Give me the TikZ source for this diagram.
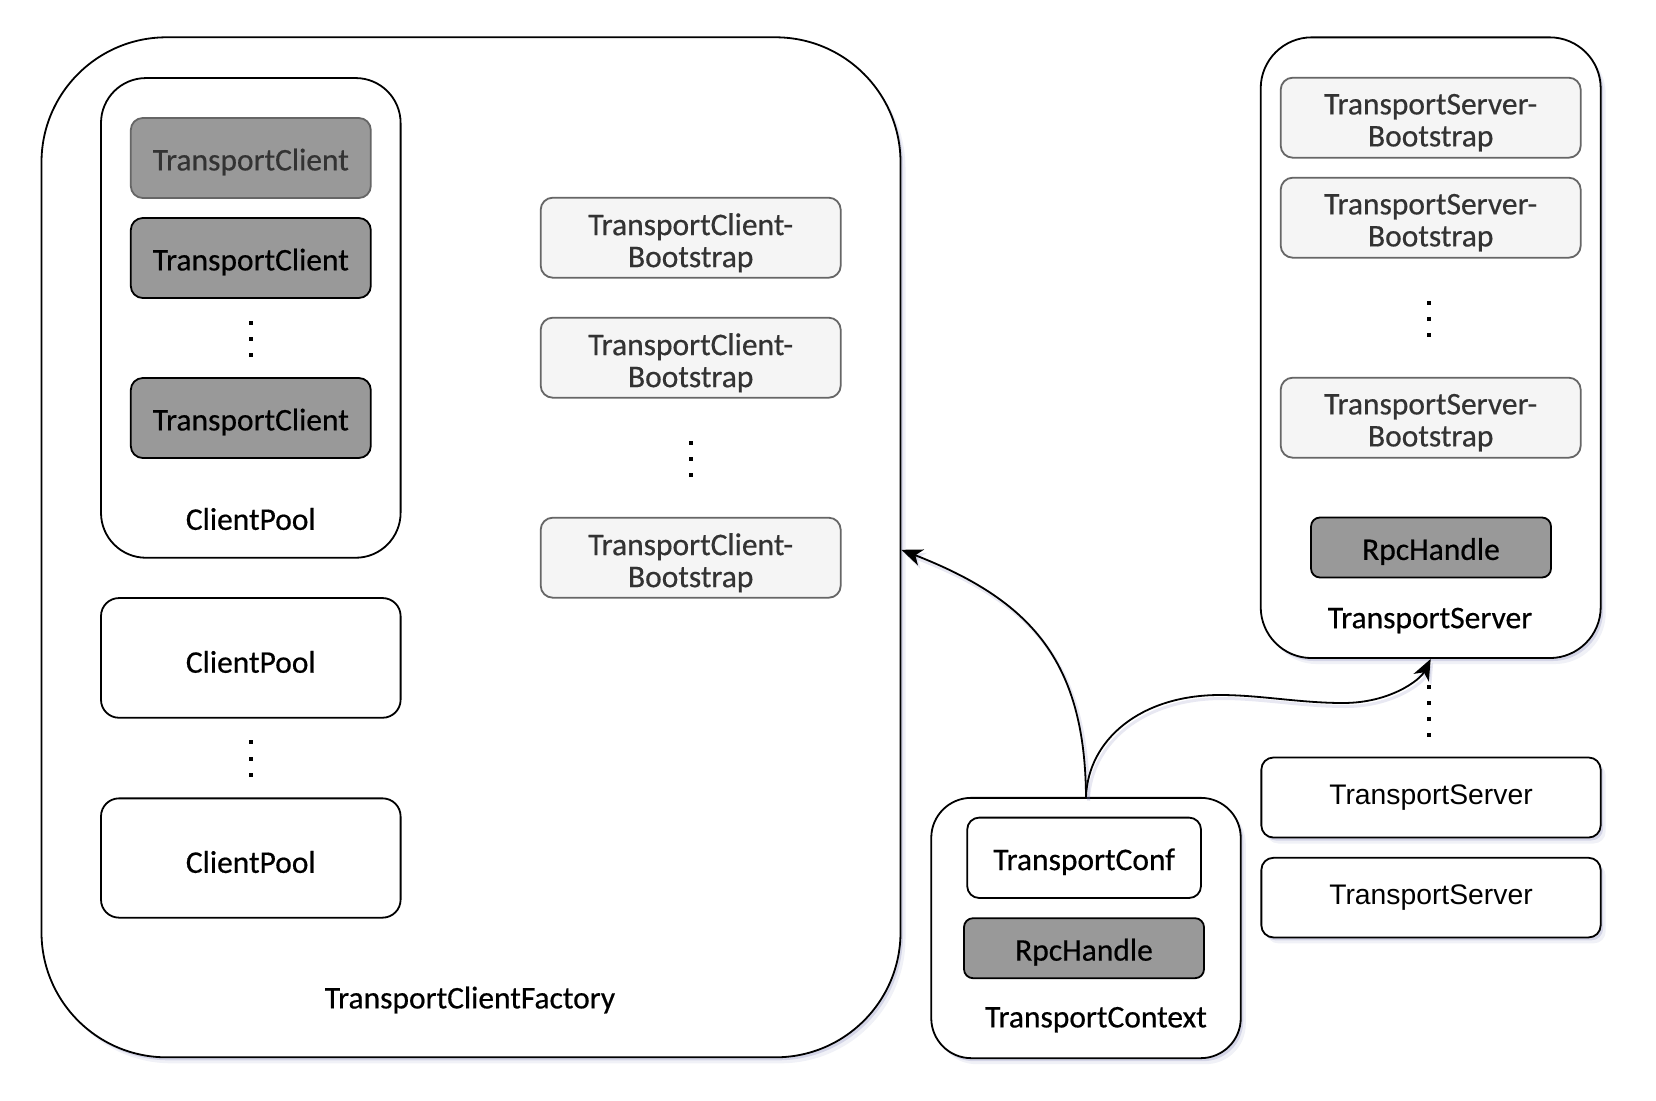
\documentclass[tikz,border=0pt]{standalone}
\usepackage{fontspec}
\usetikzlibrary{arrows.meta,shadows}
\newfontfamily\cfont[FakeBold=0.5]{Carlito}
\newfontfamily\hfont{Liberation Sans}
\definecolor{shadowc}{RGB}{110,115,175}
\definecolor{gfill}{HTML}{999999}
\definecolor{lfill}{HTML}{F5F5F5}
\definecolor{dgray}{HTML}{333333}
\definecolor{mgray}{HTML}{666666}
\begin{document}
\begin{tikzpicture}[x=1pt,y=-1pt,
  cfnt/.style={font=\cfont\fontsize{31.5}{32}\selectfont},
  base/.style={draw, line width=1.8pt, inner sep=0pt, fill=white, align=center},
  shad/.style={drop shadow={shadow xshift=2.5pt,shadow yshift=-3pt,fill=shadowc,opacity=.22},
               drop shadow={shadow xshift=5pt,shadow yshift=-6pt,fill=shadowc,opacity=.10}},
  bigbox/.style={base, rounded corners=#1},
  client/.style={base, rounded corners=12pt, fill=gfill, minimum width=240pt, minimum height=80pt},
  clientlight/.style={client, draw=mgray},
  boot/.style={base, rounded corners=12pt, fill=lfill, draw=mgray, minimum width=300pt, minimum height=80pt},
  rpc/.style={base, rounded corners=9pt, fill=gfill, minimum width=240pt, minimum height=60pt},
  lbl/.style={inner sep=0pt, align=center, cfnt},
  conn/.style={line width=1.8pt, -{Stealth[length=21pt,width=17pt,inset=6pt]}},
  connshadow/.style={conn, draw=shadowc, draw opacity=.16, fill opacity=.16, line width=3pt},
  sdot/.style={fill=black}
]
\useasboundingbox (0,0) rectangle (1656,1100);

% ---------- TransportClientFactory ----------
\node[bigbox=125pt, shad, minimum width=859pt, minimum height=1020pt] (factory) at (471,547.3) {};
\node[lbl] (factorylbl) at (470,1000) {TransportClientFactory};

\node[bigbox=45pt, minimum width=299.6pt, minimum height=479.7pt] (cp1) at (250.8,317.9) {};
\node[clientlight, label={[lbl,text=dgray,yshift=-4pt]center:TransportClient}] (tc1) at (250.8,158) {};
\node[client, label={[lbl,yshift=-4pt]center:TransportClient}] (tc2) at (250.8,258) {};
\node[client, label={[lbl,yshift=-4pt]center:TransportClient}] (tc3) at (250.8,418) {};
\node[lbl] (cp1lbl) at (250.8,519) {ClientPool};
\foreach \yy in {322.7,338.8,355} \fill[sdot] (248.8,\yy-2) rectangle (252.8,\yy+2);

\node[bigbox=18pt, minimum width=299.6pt, minimum height=119.7pt,
      label={[lbl,yshift=-4pt]center:ClientPool}] (cp2) at (250.8,657.9) {};
\foreach \yy in {742.2,759,774.8} \fill[sdot] (248.8,\yy-2) rectangle (252.8,\yy+2);
\node[bigbox=18pt, minimum width=299.6pt, minimum height=119.3pt,
      label={[lbl,yshift=-4pt]center:ClientPool}] (cp3) at (250.8,858) {};

\node[boot, label={[lbl,text=dgray,yshift=-5pt]center:TransportClient-\\Bootstrap}] (cb1) at (690.7,237.7) {};
\node[boot, label={[lbl,text=dgray,yshift=-5pt]center:TransportClient-\\Bootstrap}] (cb2) at (690.7,357.7) {};
\foreach \yy in {442.7,458.7,474.7} \fill[sdot] (688.7,\yy-2) rectangle (692.7,\yy+2);
\node[boot, label={[lbl,text=dgray,yshift=-5pt]center:TransportClient-\\Bootstrap}] (cb3) at (690.7,557.7) {};

% ---------- TransportServer (detailed) ----------
\node[bigbox=51pt, shad, minimum width=340pt, minimum height=620.7pt] (srv) at (1430.7,347.7) {};
\node[boot, label={[lbl,text=dgray,yshift=-5pt]center:TransportServer-\\Bootstrap}] (sb1) at (1430.7,117.7) {};
\node[boot, label={[lbl,text=dgray,yshift=-5pt]center:TransportServer-\\Bootstrap}] (sb2) at (1430.7,217.7) {};
\foreach \yy in {302.7,318.7,334.7} \fill[sdot] (1427.3,\yy-2) rectangle (1431.3,\yy+2);
\node[boot, label={[lbl,text=dgray,yshift=-5pt]center:TransportServer-\\Bootstrap}] (sb3) at (1430.7,417.7) {};
\node[rpc, label={[lbl,yshift=-4pt]center:RpcHandle}] (rpcs) at (1431,547.5) {};
\node[lbl] (srvlbl) at (1430,620.5) {TransportServer};

\foreach \yy in {686.7,702.7,718.7,734.7} \fill[sdot] (1427,\yy-2) rectangle (1431,\yy+2);

\node[base, shad, rounded corners=12pt, minimum width=339.3pt, minimum height=80pt,
      font=\hfont\fontsize{28.3}{30}\selectfont] (tsa) at (1431,797.5) {TransportServer};
\node[base, shad, rounded corners=12pt, minimum width=339.3pt, minimum height=79.6pt,
      font=\hfont\fontsize{28.3}{30}\selectfont] (tsb) at (1431,897.6) {TransportServer};

% ---------- TransportContext ----------
\node[bigbox=40pt, shad, minimum width=309.5pt, minimum height=260.3pt] (ctx) at (1086,928) {};
\node[base, rounded corners=12pt, minimum width=233.8pt, minimum height=80.4pt,
      label={[lbl,yshift=-4pt]center:TransportConf}] (conf) at (1084.1,857.8) {};
\node[rpc, label={[lbl,yshift=-4pt]center:RpcHandle}] (rpcc) at (1084,948.2) {};
\node[lbl] (ctxlbl) at (1096,1019.7) {TransportContext};

% ---------- connectors ----------
\begin{scope}[transform canvas={xshift=2.5pt,yshift=-3.5pt}]
\draw[connshadow] (ctx.north) .. controls (1085,660) and (1030,600) .. ([yshift=-2.5pt]factory.east);
\draw[connshadow] (ctx.north) .. controls (1088,740) and (1140,695) .. (1220,695)
   .. controls (1260,695) and (1300,703) .. (1343,703)
   .. controls (1390,703) and (1420,680) .. (srv.south);
\end{scope}
\draw[conn] (ctx.north) .. controls (1085,660) and (1030,600) .. ([yshift=-2.5pt]factory.east);
\draw[conn] (ctx.north) .. controls (1088,740) and (1140,695) .. (1220,695)
   .. controls (1260,695) and (1300,703) .. (1343,703)
   .. controls (1390,703) and (1420,680) .. (srv.south);
\end{tikzpicture}
\end{document}
